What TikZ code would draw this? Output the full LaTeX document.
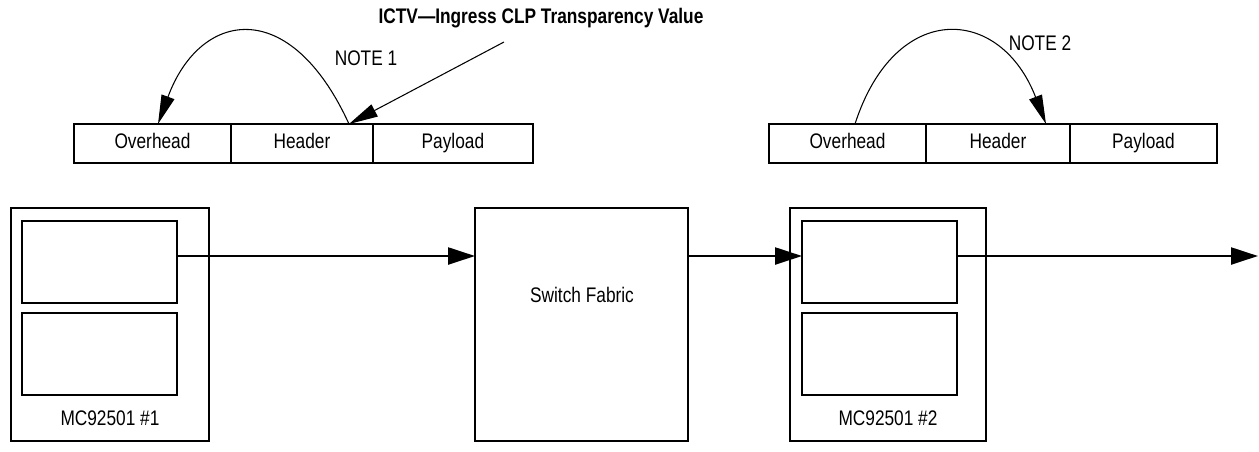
\documentclass[tikz,border=0pt]{standalone}
\usepackage{fontspec}
\setmainfont{Liberation Sans}[FakeStretch=0.82]
\usetikzlibrary{arrows.meta, positioning}

\begin{document}
\begin{tikzpicture}[x=0.02cm, y=-0.02cm, font=\fontsize{12}{14}\selectfont]
\tikzstyle{cell} = [rectangle, draw=black, line width=1.3pt, minimum height=0.78cm, inner sep=0pt, outer sep=0pt, text height=1.6ex, text depth=0.45ex, text centered]
\tikzstyle{chip} = [rectangle, draw=black, line width=1.3pt, minimum width=3.96cm, minimum height=4.66cm, inner sep=0pt, outer sep=0pt]
\tikzstyle{slot} = [rectangle, draw=black, line width=1.3pt, minimum width=3.1cm, minimum height=1.64cm, inner sep=0pt, outer sep=0pt]
\tikzstyle{flow} = [draw, line width=1.3pt, -{Triangle[length=0.54cm, width=0.34cm]}]
\tikzstyle{note} = [draw, line width=0.6pt, -{Triangle[length=0.58cm, width=0.27cm]}]

\useasboundingbox (0,0) rectangle (1259,451);

% cell layout, ingress side
\node (ovh1) [cell, minimum width=3.14cm] at (152.5,143.5) {Overhead};
\node (hdr1) [cell, minimum width=2.84cm, right=0pt of ovh1] {Header};
\node (pay1) [cell, minimum width=3.2cm, right=0pt of hdr1] {Payload};

% cell layout, egress side
\node (ovh2) [cell, minimum width=3.14cm] at (847.5,143.5) {Overhead};
\node (hdr2) [cell, minimum width=2.88cm, right=0pt of ovh2] {Header};
\node (pay2) [cell, minimum width=2.94cm, right=0pt of hdr2] {Payload};

% devices
\node (mc1) [chip] at (110,324.5) {};
\node (mc1a) [slot] at (99.5,262) {};
\node (mc1b) [slot, below=0.2cm of mc1a] {};
\node (mc1lbl) at (110,418) {MC92501 \#1};

\node (sf) [chip, minimum width=4.26cm] at (581.5,324.5) {};
\node (sflbl) at (582,295) {Switch Fabric};

\node (mc2) [chip, minimum width=3.92cm] at (888,324.5) {};
\node (mc2a) [slot] at (879.5,262) {};
\node (mc2b) [slot, below=0.2cm of mc2a] {};
\node (mc2lbl) at (888,418) {MC92501 \#2};

% cell flow
\coordinate (lane) at (0,256);
\coordinate (out) at (1258,256);
\path [flow] (mc1a.east |- lane) -- (sf.west |- lane);
\path [flow] (sf.east |- lane) -- (mc2a.west |- lane);
\path [flow] (mc2a.east |- lane) -- (out);

% notes
\coordinate (n1a) at (349,124);
\coordinate (n1b) at (158,124);
\coordinate (n2a) at (855,124);
\coordinate (n2b) at (1046,124);
\coordinate (ictv) at (504,42);
\path [note] (n1a) .. controls (290,-5) and (200,10) .. (n1b);
\path [note] (n2a) .. controls (895,0) and (1000,5) .. (n2b);
\path [note] (ictv) -- (n1a);

\node (ictvlbl) [font=\bfseries\fontsize{12}{14}\selectfont] at (541,18) {ICTV---Ingress CLP Transparency Value};
\node (note1) at (366,58) {NOTE 1};
\node (note2) at (1040,43) {NOTE 2};

\end{tikzpicture}
\end{document}
